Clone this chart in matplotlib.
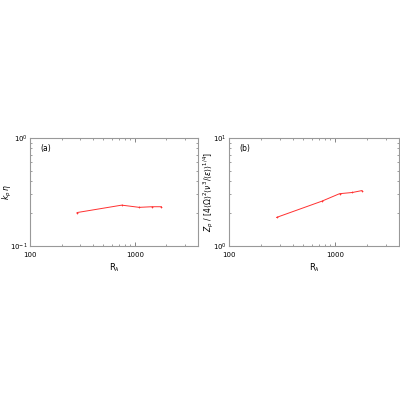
import matplotlib
matplotlib.use('Agg')
import matplotlib.pyplot as plt
from matplotlib.ticker import LogLocator, NullFormatter

# data
r_lambda = [281, 750, 1100, 1456, 1790]
kp_eta = [0.204, 0.239, 0.228, 0.231, 0.231]
zp_scaled = [1.84, 2.60, 3.05, 3.13, 3.26]

fig = plt.figure(figsize=(4, 4), dpi=100)
ax_a = fig.add_axes([0.075, 0.385, 0.42, 0.27])
ax_b = fig.add_axes([0.5725, 0.385, 0.425, 0.27])

panels = [
    (ax_a, kp_eta, (0.1, 1), r'$k_p\,\eta$', '(a)', -0.095),
    (ax_b, zp_scaled, (1, 10),
     r'$Z_p\ /\ [4\langle\Omega\rangle^2\langle\nu^3/\langle\epsilon\rangle\rangle^{1/4}]$', '(b)', -0.075),
]

for ax, y, ylim, ylab, tag, lx in panels:
    ax.plot(r_lambda, y, color='#ff3030', lw=0.7, marker='+', ms=2.0, mew=0.5)
    ax.set_xscale('log')
    ax.set_yscale('log')
    ax.set_xlim(100, 4000)
    ax.set_ylim(*ylim)
    ax.set_xticks([100, 1000])
    ax.set_xticklabels(['100', '1000'])
    ax.xaxis.set_minor_locator(LogLocator(base=10, subs=range(2, 10)))
    ax.xaxis.set_minor_formatter(NullFormatter())
    ax.yaxis.set_minor_locator(LogLocator(base=10, subs=range(2, 10)))
    ax.yaxis.set_minor_formatter(NullFormatter())
    ax.tick_params(which='both', direction='in', top=True, right=True,
                   labelsize=5, color='#555555', pad=1.5)
    ax.tick_params(axis='x', pad=4)
    ax.tick_params(which='major', length=3, width=0.5)
    ax.tick_params(which='minor', length=1.5, width=0.4)
    for s in ax.spines.values():
        s.set_color('#999999')
        s.set_linewidth(0.8)
    ax.set_xlabel(r'$\mathrm{R}_\lambda$', fontsize=6, labelpad=3)
    ax.set_ylabel(ylab, fontsize=5.5)
    ax.yaxis.set_label_coords(lx, 0.5)
    ax.text(0.06, 0.88, tag, transform=ax.transAxes, fontsize=5.5)

fig.savefig('out.png', dpi=100)
